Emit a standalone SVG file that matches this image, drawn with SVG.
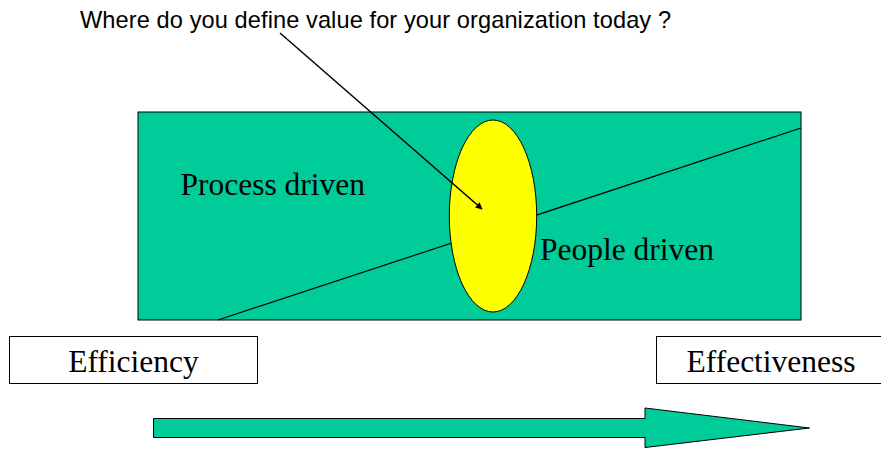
<svg xmlns="http://www.w3.org/2000/svg" width="881" height="449" viewBox="0 0 881 449">
<defs>
<style>
.serif{font-family:"Liberation Serif","Times New Roman",serif;font-size:31.5px;fill:#000}
.sans{font-family:"Liberation Sans",Arial,sans-serif;font-size:23.6px;fill:#000}
.box{fill:#fff;stroke:#000;stroke-width:1}
.green{fill:#00CC99;stroke:#000;stroke-width:1}
</style>
<marker id="ah" viewBox="0 0 10 10" refX="9" refY="5" markerWidth="7" markerHeight="7" markerUnits="userSpaceOnUse" orient="auto">
<path d="M0,0 L10,5 L0,10 z" fill="#000"/>
</marker>
</defs>
<rect width="881" height="449" fill="#fff"/>
<g id="question">
<text class="sans" x="80" y="28" textLength="591" lengthAdjust="spacing">Where do you define value for your organization today ?</text>
</g>
<g id="field">
<rect class="green" x="138" y="112" width="663" height="208"/>
<line x1="218" y1="320" x2="801" y2="128" stroke="#000" stroke-width="1.2"/>
<text class="serif" x="180.5" y="194.5">Process driven</text>
</g>
<g id="focus">
<ellipse cx="493" cy="216" rx="43.7" ry="96" fill="#FFFF00" stroke="#000" stroke-width="1"/>
</g>
<g id="people">
<text class="serif" x="540" y="259.5">People driven</text>
</g>
<g id="efficiency">
<rect class="box" x="9.5" y="336.5" width="248" height="47"/>
<text class="serif" x="133.5" y="371.5" text-anchor="middle">Efficiency</text>
</g>
<g id="effectiveness">
<rect class="box" x="656.5" y="336.5" width="230" height="47"/>
<text class="serif" x="686.5" y="371.5">Effectiveness</text>
</g>
<g id="progress">
<path class="green" d="M153.5,418.5 L645,418.5 L645,408 L809.5,428 L645,447.5 L645,437.5 L153.5,437.5 Z"/>
</g>
<g id="connectors">
<line x1="280" y1="33" x2="482" y2="209" stroke="#000" stroke-width="1.5" marker-end="url(#ah)"/>
</g>
</svg>
